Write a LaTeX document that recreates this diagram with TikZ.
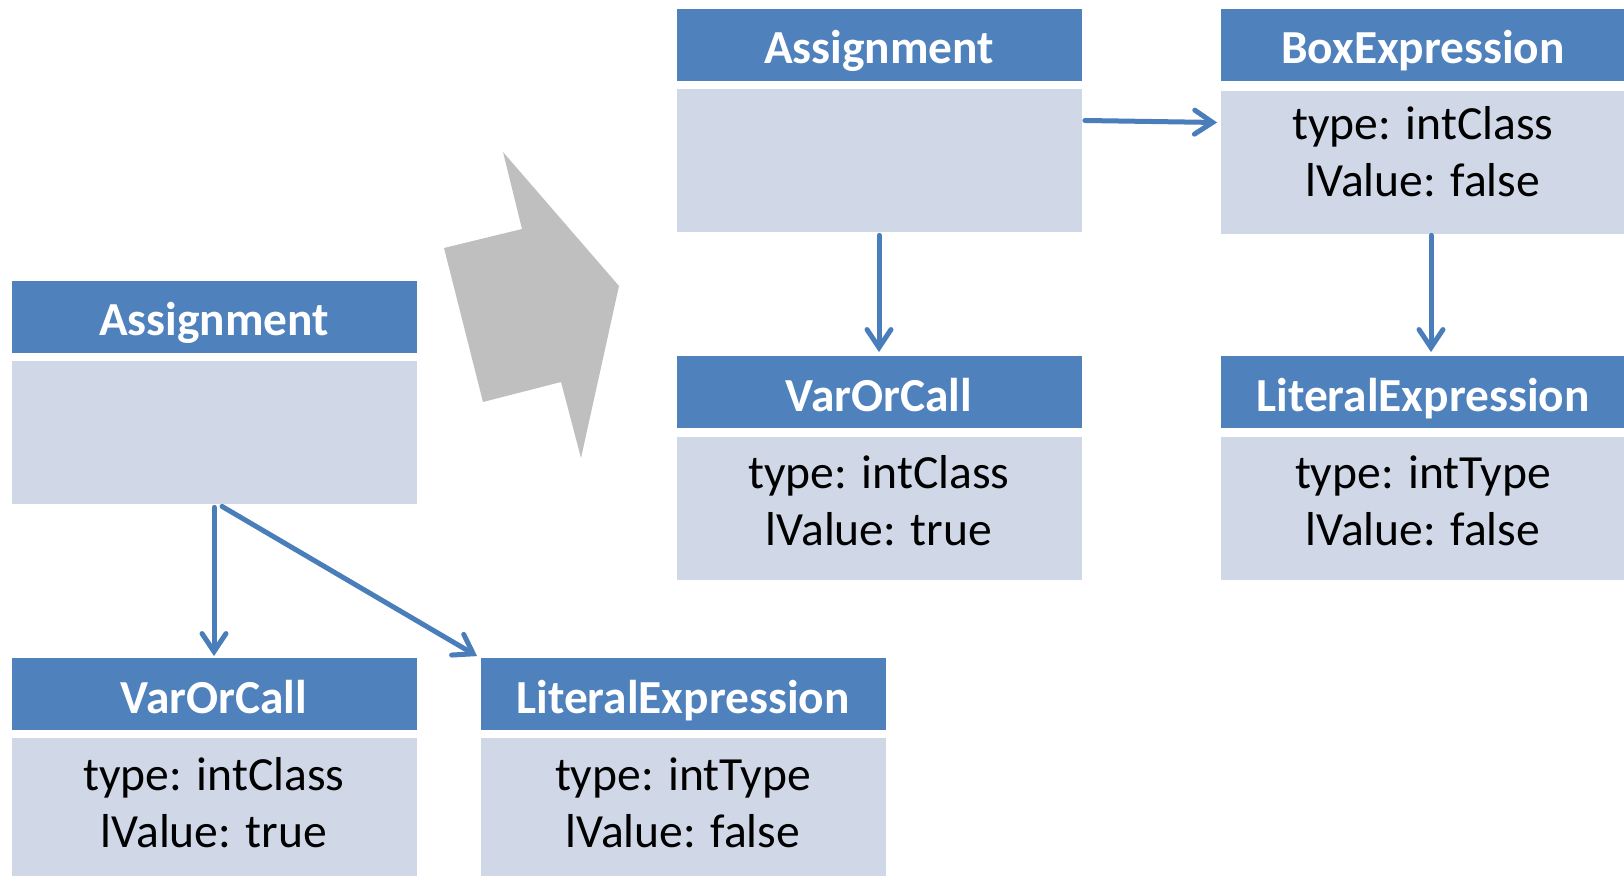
\documentclass[tikz,border=0pt]{standalone}
\usepackage{fontspec}
\setmainfont{Carlito}
\usetikzlibrary{arrows.meta,calc}
\definecolor{hdr}{HTML}{4F81BD}
\definecolor{bdy}{HTML}{D0D8E8}
\definecolor{arr}{HTML}{4A7EBB}
\definecolor{graysh}{HTML}{BFBFBF}
\tikzset{
  hdrbox/.style={rectangle, fill=hdr, draw=none, minimum width=202.5pt, minimum height=36pt, inner sep=0pt, text height=19pt, text depth=0pt, text=white, font=\fontsize{23.7}{28.5}\selectfont\bfseries},
  bdybox/.style={rectangle, fill=bdy, draw=none, minimum width=202.5pt, minimum height=71.5pt, inner sep=0pt},
  bdytext/.style={align=center, inner sep=0pt, font=\fontsize{23.8}{28.5}\selectfont},
  conn/.style={draw=arr, line width=2.5pt, line cap=round, -{Straight Barb[length=9pt,width=12pt,line cap=round]}}
}
\begin{document}
\begin{tikzpicture}[x=0.5pt,y=-0.5pt]
\useasboundingbox (0,0) rectangle (1624,876);
\clip (0,0) rectangle (1624,876);
% gray transformation arrow
\fill[graysh] (503,152) -- (619,286) -- (581,458) -- (561,382) -- (483,402) -- (444,248) -- (522,229) -- cycle;
% left tree
\node[hdrbox] (a1h) at (214,317) {Assignment};
\node[bdybox] (a1b) at (214,432.5) {};
\node[hdrbox] (v1h) at (214,694.5) {VarOrCall};
\node[bdybox] (v1b) at (214,809.5) {};
\node[bdytext] (v1t) at (214,803) {type: intClass\\lValue: true};
\node[hdrbox] (l1h) at (683,694.5) {LiteralExpression};
\node[bdybox] (l1b) at (683,809.5) {};
\node[bdytext] (l1t) at (683,803) {type: intType\\lValue: false};
% right tree
\node[hdrbox] (a2h) at (879,45) {Assignment};
\node[bdybox] (a2b) at (879,160.5) {};
\node[hdrbox] (bh) at (1423,45) {BoxExpression};
\node[bdybox] (bb) at (1423,162.5) {};
\node[bdytext] (bt) at (1423,152) {type: intClass\\lValue: false};
\node[hdrbox] (v2h) at (879,392.5) {VarOrCall};
\node[bdybox] (v2b) at (879,508.5) {};
\node[bdytext] (v2t) at (879,501) {type: intClass\\lValue: true};
\node[hdrbox] (l2h) at (1423,392.5) {LiteralExpression};
\node[bdybox] (l2b) at (1423,508.5) {};
\node[bdytext] (l2t) at (1423,501) {type: intType\\lValue: false};
% connectors
\draw[conn] ($(a1b.south)+(0,3)$) -- ($(v1h.north)+(0,-2)$);
\draw[conn] ($(a1b.south)+(8,2)$) -- ($(l1h.north west)+(-3,-2)$);
\draw[conn] ($(a2b.east)+(3,-40)$) -- ($(bb.west)+(-3,-40)$);
\draw[conn] ($(a2b.south)+(0,3)$) -- ($(v2h.north)+(0,-4)$);
\draw[conn] ($(bb.south)+(8,1)$) -- ($(l2h.north)+(8,-4)$);
\end{tikzpicture}
\end{document}
